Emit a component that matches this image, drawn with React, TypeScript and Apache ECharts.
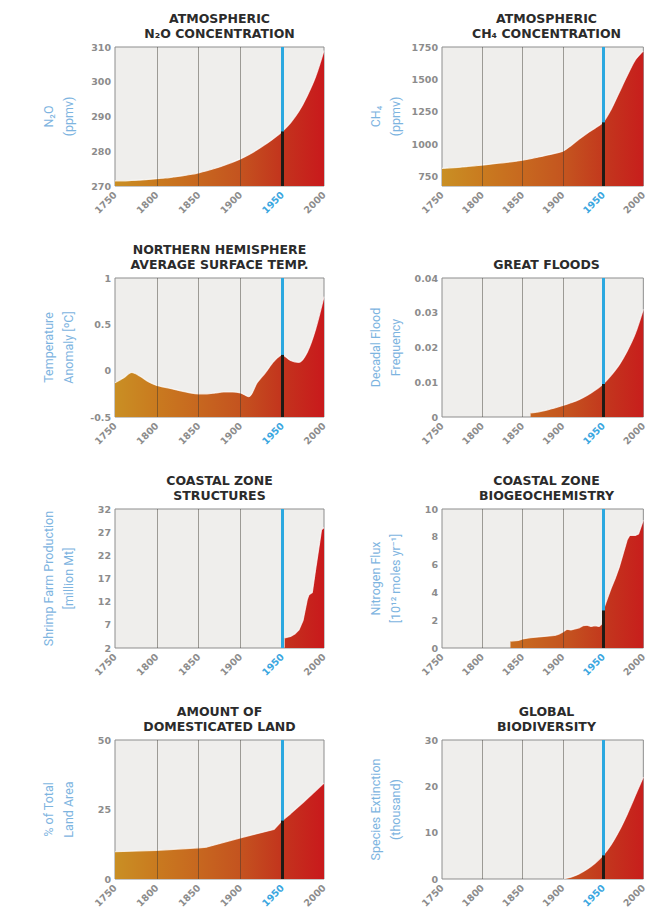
import React, { useEffect, useRef } from "react";
import * as echarts from "echarts";

// ---------- data ----------
const xTicks = [1750, 1800, 1850, 1900, 1950, 2000];
const markYear = 1950;
const decades = [1750, 1760, 1770, 1780, 1790, 1800, 1810, 1820, 1830, 1840, 1850, 1860, 1870, 1880, 1890, 1900, 1910, 1920, 1930, 1940, 1950, 1960, 1970, 1980, 1990, 2000];

const n2oYears = decades;
const n2oValues = [271.5, 271.5, 271.6, 271.7, 271.9, 272.1, 272.3, 272.6, 272.9, 273.3, 273.8, 274.4, 275.1, 275.9, 276.8, 277.8, 279, 280.4, 282, 283.7, 285.7, 288.2, 291.5, 296, 301.5, 309];
const n2oTicks = [270, 280, 290, 300, 310];

const ch4Years = decades;
const ch4Values = [815, 820, 824, 829, 835, 841, 848, 855, 862, 870, 879, 890, 903, 917, 931, 947, 990, 1040, 1085, 1125, 1170, 1270, 1400, 1530, 1650, 1720];
const ch4Ticks = [750, 1000, 1250, 1500, 1750];
const ch4Range = [680, 1750];

const tempYears = decades;
const tempValues = [-0.13, -0.08, -0.02, -0.06, -0.12, -0.16, -0.18, -0.2, -0.22, -0.24, -0.25, -0.25, -0.24, -0.23, -0.23, -0.24, -0.28, -0.13, -0.02, 0.1, 0.17, 0.11, 0.09, 0.2, 0.45, 0.8];
const tempTicks = [-0.5, 0, 0.5, 1];

const floodYears = [1860, 1870, 1880, 1890, 1900, 1910, 1920, 1930, 1940, 1950, 1960, 1970, 1980, 1990, 2000];
const floodValues = [0.0012, 0.0015, 0.002, 0.0026, 0.0033, 0.0041, 0.005, 0.0062, 0.0077, 0.0095, 0.012, 0.015, 0.019, 0.024, 0.031];
const floodTicks = [0, 0.01, 0.02, 0.03, 0.04];

const shrimpYears = [1953, 1960, 1965, 1970, 1975, 1980, 1982, 1986, 1990, 1995, 1997, 2000];
const shrimpValues = [4.2, 4.5, 5, 5.9, 8, 12.5, 13.5, 14, 19, 25, 27.5, 28];
const shrimpTicks = [2, 7, 12, 17, 22, 27, 32];

const nitroYears = [1835, 1845, 1850, 1860, 1870, 1880, 1890, 1895, 1900, 1905, 1910, 1920, 1925, 1930, 1935, 1940, 1945, 1948, 1950, 1955, 1960, 1965, 1970, 1975, 1980, 1983, 1990, 1994, 2000];
const nitroValues = [0.5, 0.55, 0.65, 0.75, 0.8, 0.85, 0.9, 1.0, 1.15, 1.35, 1.3, 1.45, 1.6, 1.65, 1.55, 1.6, 1.55, 1.7, 2.7, 3.5, 4.3, 5.0, 5.8, 6.8, 7.8, 8.1, 8.1, 8.2, 9.2];
const nitroTicks = [0, 2, 4, 6, 8, 10];

const landYears = [1750, 1800, 1850, 1860, 1900, 1940, 1950, 1960, 1975, 2000];
const landValues = [9.8, 10.3, 11.2, 11.5, 14.8, 17.8, 21, 23.5, 27.5, 34.5];
const landTicks = [0, 25, 50];

const bioYears = [1900, 1910, 1920, 1930, 1940, 1950, 1960, 1970, 1980, 1990, 2000];
const bioValues = [0, 0.4, 1.1, 2.1, 3.4, 5.1, 7.4, 10.4, 14.0, 18, 22];
const bioTicks = [0, 10, 20, 30];

const panels = [
  { title: "ATMOSPHERIC\nN₂O CONCENTRATION", yName: "N₂O\n(ppmv)", years: n2oYears, values: n2oValues, ticks: n2oTicks, range: [n2oTicks[0], n2oTicks[n2oTicks.length - 1]], smooth: 0.3 },
  { title: "ATMOSPHERIC\nCH₄ CONCENTRATION", yName: "CH₄\n(ppmv)", years: ch4Years, values: ch4Values, ticks: ch4Ticks, range: ch4Range, smooth: 0.3 },
  { title: "NORTHERN HEMISPHERE\nAVERAGE SURFACE TEMP.", yName: "Temperature\nAnomaly [ºC]", years: tempYears, values: tempValues, ticks: tempTicks, range: [tempTicks[0], tempTicks[tempTicks.length - 1]], smooth: 0.3 },
  { title: "GREAT FLOODS", yName: "Decadal Flood\nFrequency", years: floodYears, values: floodValues, ticks: floodTicks, range: [floodTicks[0], floodTicks[floodTicks.length - 1]], smooth: 0.3 },
  { title: "COASTAL ZONE\nSTRUCTURES", yName: "Shrimp Farm Production\n[million Mt]", years: shrimpYears, values: shrimpValues, ticks: shrimpTicks, range: [shrimpTicks[0], shrimpTicks[shrimpTicks.length - 1]], smooth: 0 },
  { title: "COASTAL ZONE\nBIOGEOCHEMISTRY", yName: "Nitrogen Flux\n[10¹² moles yr⁻¹]", years: nitroYears, values: nitroValues, ticks: nitroTicks, range: [nitroTicks[0], nitroTicks[nitroTicks.length - 1]], smooth: 0 },
  { title: "AMOUNT OF\nDOMESTICATED LAND", yName: "% of Total\nLand Area", years: landYears, values: landValues, ticks: landTicks, range: [landTicks[0], landTicks[landTicks.length - 1]], smooth: 0 },
  { title: "GLOBAL\nBIODIVERSITY", yName: "Species Extinction\n(thousand)", years: bioYears, values: bioValues, ticks: bioTicks, range: [bioTicks[0], bioTicks[bioTicks.length - 1]], smooth: 0.3 },
];

// ---------- layout ----------
const W = 649;
const H = 913;
const colLeft = [115, 442];
const rowTop = [47, 278, 509, 740];
const gridW = 209;
const gridH = 139;
const FONT = "DejaVu Sans";

export default function App() {
  const ref = useRef<HTMLDivElement>(null);

  useEffect(() => {
    if (!ref.current) return;
    const chart = echarts.init(ref.current, undefined, { renderer: "svg" });

    const grids: any[] = [];
    const xAxes: any[] = [];
    const yAxes: any[] = [];
    const series: any[] = [];
    const graphics: any[] = [];

    panels.forEach((p, i) => {
      const left = colLeft[i % 2];
      const top = rowTop[Math.floor(i / 2)];
      grids.push({
        left, top, width: gridW, height: gridH,
        show: true, backgroundColor: "#efeeec", borderColor: "#8d8d8d", borderWidth: 1,
      });
      xAxes.push({
        type: "value", gridIndex: i, min: xTicks[0], max: xTicks[xTicks.length - 1], interval: 50,
        axisLine: { show: false }, axisTick: { show: false }, splitLine: { show: false },
        axisLabel: {
          rotate: 45, margin: 7,
          formatter: (v: number) => (v === markYear ? `{b|${v}}` : `{a|${v}}`),
          rich: {
            a: { color: "#8c8c8c", fontWeight: "bold", fontSize: 9.5, fontFamily: FONT },
            b: { color: "#39a6e0", fontWeight: "bold", fontSize: 9.5, fontFamily: FONT },
          },
        },
      });
      yAxes.push({
        type: "value", gridIndex: i, min: p.range[0], max: p.range[1],
        axisLine: { show: false }, axisTick: { show: false }, splitLine: { show: false },
        axisLabel: {
          customValues: p.ticks, showMinLabel: true, showMaxLabel: true,
          color: "#8c8c8c", fontWeight: "bold", fontSize: 9.5, fontFamily: FONT, margin: 4,
          formatter: (v: number) => String(v),
        },
      });

      const data = p.years.map((y, k) => [y, p.values[k]]);
      const idx = p.years.indexOf(markYear);
      const v1950 = idx >= 0 ? p.values[idx] : null;

      const markData: any[] = [1800, 1850, 1900].map((x) => ({
        xAxis: x, lineStyle: { color: "rgba(55,50,45,0.45)", width: 1, type: "solid" },
      }));
      markData.push({ xAxis: markYear, lineStyle: { color: "#2ba8e0", width: 3, type: "solid" } });
      if (v1950 !== null) {
        markData.push([
          { coord: [markYear, p.range[0]], lineStyle: { color: "#1f1b15", width: 3, type: "solid" } },
          { coord: [markYear, v1950] },
        ]);
      }

      series.push({
        type: "line", xAxisIndex: i, yAxisIndex: i, data,
        smooth: p.smooth, showSymbol: false, silent: true,
        lineStyle: { color: "rgba(255,255,255,0.75)", width: 1.2 },
        areaStyle: {
          origin: "start", opacity: 1,
          color: new echarts.graphic.LinearGradient(left, 0, left + gridW, 0, [
            { offset: 0, color: "#c98f24" },
            { offset: 0.2, color: "#c97a1f" },
            { offset: 0.4, color: "#c7671f" },
            { offset: 0.6, color: "#c4531f" },
            { offset: 0.8, color: "#c3341d" },
            { offset: 1, color: "#c9191c" },
          ], true),
        },
        markLine: {
          silent: true, symbol: ["none", "none"], label: { show: false },
          emphasis: { disabled: true }, data: markData,
        },
      });

      graphics.push({
        type: "text", x: left + gridW / 2, y: top - 6,
        style: {
          text: p.title, align: "center", verticalAlign: "bottom",
          fontSize: 12.5, fontWeight: "bold", fontFamily: FONT, lineHeight: 15, fill: "#2b2b2b",
        },
      });
      graphics.push({
        type: "text", x: left - 57, y: top + gridH / 2, rotation: Math.PI / 2,
        style: {
          text: p.yName, align: "center", verticalAlign: "middle",
          fontSize: 12.5, fontFamily: "Roboto", lineHeight: 20, fill: "#7db4df",
        },
      });
    });

    chart.setOption({
      animation: false,
      backgroundColor: "#ffffff",
      grid: grids,
      xAxis: xAxes,
      yAxis: yAxes,
      series,
      graphic: graphics,
    });

    return () => chart.dispose();
  }, []);

  return <div ref={ref} style={{ position: "absolute", left: 0, top: 0, width: W, height: H }} />;
}
